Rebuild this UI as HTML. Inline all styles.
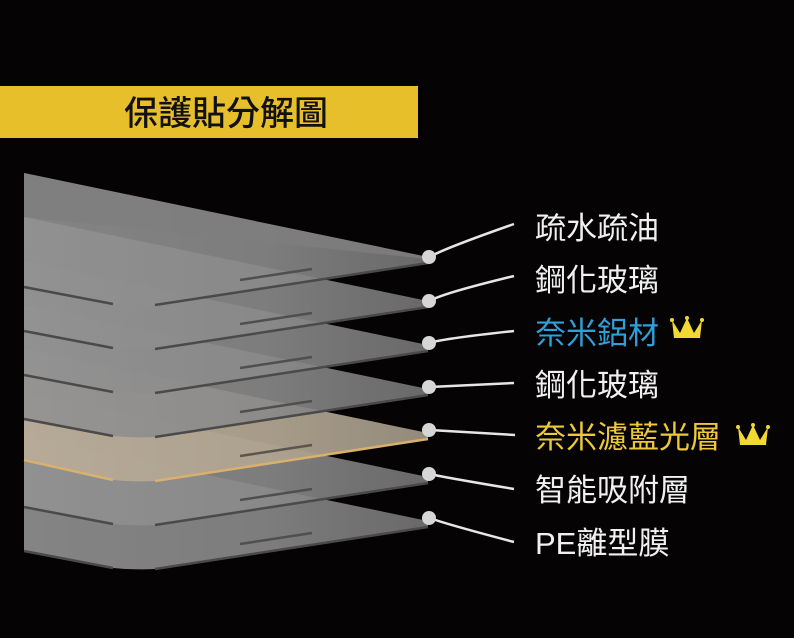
<!DOCTYPE html>
<html><head><meta charset="utf-8"><style>
html,body{margin:0;padding:0;background:#050303;}
body{width:794px;height:638px;overflow:hidden;position:relative;font-family:"Liberation Sans","Noto Sans CJK TC",sans-serif;}
</style></head><body>
<svg width="794" height="638" viewBox="0 0 794 638" xmlns="http://www.w3.org/2000/svg" style="position:absolute;left:0;top:0">
<defs>
<linearGradient id="g" x1="0" x2="1" y1="0" y2="0">
<stop offset="0" stop-color="#929292"/><stop offset="0.6" stop-color="#8a8a8a"/><stop offset="1" stop-color="#747474"/></linearGradient>
<linearGradient id="gold" x1="0" x2="1" y1="0" y2="0">
<stop offset="0" stop-color="#b8ab98"/><stop offset="0.6" stop-color="#b0a490"/><stop offset="1" stop-color="#9c9282"/></linearGradient>
<g id="L">
<path d="M24 0 L428 84 L428 90 L155 132 Q135 133 113 131 L24 114 Z" fill="url(#g)" fill-opacity="0.9"/>
<path d="M24 114 L113 131" stroke="#4a4a4a" stroke-width="2.5" fill="none"/>
<path d="M155 132 L428 90" stroke="#4a4a4a" stroke-width="2.5" fill="none"/>
<path d="M240 107 L312 96" stroke="#4f4f4f" stroke-width="2.5"/>
</g>
</defs>
<rect x="0" y="86" width="418" height="52" fill="#e7bf2b"/>
<text x="226" y="125" font-size="34" text-anchor="middle" font-weight="500" fill="#111" font-family="Liberation Sans, Noto Sans CJK TC, sans-serif">保護貼分解圖</text>

<use href="#L" transform="translate(0,437)"/>
<use href="#L" transform="translate(0,393)"/>
<g transform="translate(0,349)">
<path d="M24 0 L428 84 L428 90 L155 132 Q135 133 113 131 L24 111 Z" fill="url(#gold)" fill-opacity="0.95"/>
<path d="M24 111 L113 131" stroke="#d9b06c" stroke-width="2.5" fill="none"/>
<path d="M155 132 L428 90" stroke="#d9b06c" stroke-width="2.5" fill="none"/>
<path d="M240 107 L312 96" stroke="#5a554d" stroke-width="2.5"/>
</g>
<use href="#L" transform="translate(0,305)"/>
<use href="#L" transform="translate(0,261)"/>
<use href="#L" transform="translate(0,217)"/>
<g transform="translate(0,173)">
<use href="#L"/>
<path d="M24 0 L428 84 L428 86 L24 44 Z" fill="#7e7e7e" fill-opacity="0.8"/>
</g>

<g stroke="#e6e6e6" stroke-width="2.5" fill="none">
<path d="M430 257 Q440 250 514 224"/>
<path d="M430 301 Q440 294 514 276"/>
<path d="M430 343 Q440 339 514 331"/>
<path d="M430 387 L514 383"/>
<path d="M430 430 L515 435"/>
<path d="M430 474 Q442 477 514 489"/>
<path d="M430 518 Q442 523 514 542"/>
</g>
<g fill="#d6d6d6">
<circle cx="429" cy="257" r="7"/><circle cx="429" cy="301" r="7"/><circle cx="429" cy="343" r="7"/>
<circle cx="429" cy="387" r="7"/><circle cx="429" cy="430" r="7"/><circle cx="429" cy="474" r="7"/><circle cx="429" cy="518" r="7"/>
</g>

<g font-size="31" fill="#f0f0f0" font-family="Liberation Sans, Noto Sans CJK TC, sans-serif">
<text x="535" y="239">疏水疏油</text>
<text x="535" y="291">鋼化玻璃</text>
<text x="535" y="344" fill="#2f9fd8">奈米鋁材</text>
<text x="535" y="396">鋼化玻璃</text>
<text x="535" y="448" fill="#ecc83a">奈米濾藍光層</text>
<text x="535" y="501">智能吸附層</text>
<text x="535" y="554">PE離型膜</text>
</g>

<g fill="#f2d832">
<path d="M672 320 L680 333 L687 318 L694 333 L702 320 L700 338 L674 338 Z"/>
<circle cx="672" cy="320" r="2"/><circle cx="687" cy="318" r="2"/><circle cx="702" cy="320" r="2"/>
<path d="M738 427 L746 440 L753 425 L760 440 L768 427 L766 445 L740 445 Z"/>
<circle cx="738" cy="427" r="2"/><circle cx="753" cy="425" r="2"/><circle cx="768" cy="427" r="2"/>
</g>
</svg>
</body></html>
